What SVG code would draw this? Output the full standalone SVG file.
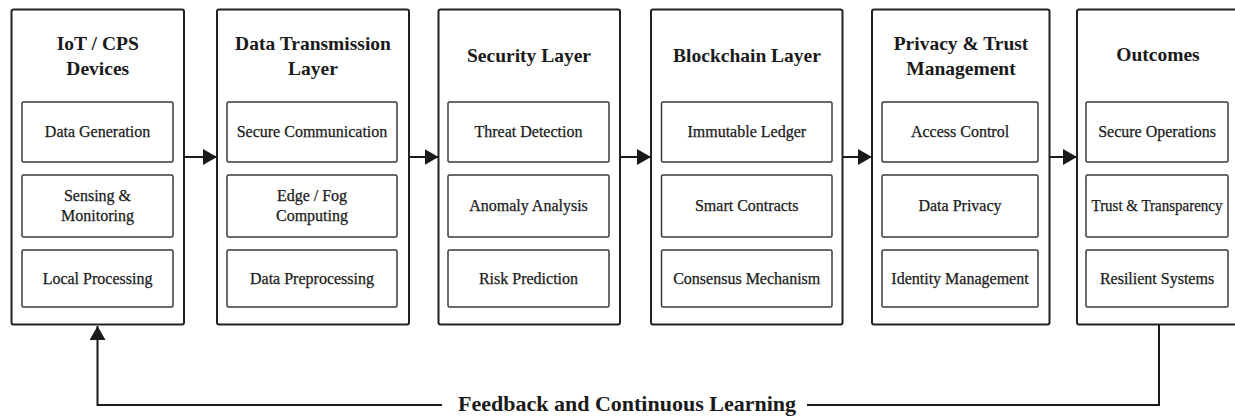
<svg xmlns="http://www.w3.org/2000/svg" width="1235" height="417" viewBox="0 0 1235 417">
  <style>
    .outer { fill: #ffffff; stroke: #222222; stroke-width: 2; }
    .inner { fill: #ffffff; stroke: #3a3a3a; stroke-width: 1.5; }
    .title { font-family: "Liberation Serif", "Times New Roman", serif; font-weight: bold; font-size: 19.5px; fill: #1a1a1a; text-anchor: middle; }
    .item { font-family: "Liberation Serif", "Times New Roman", serif; font-size: 16px; fill: #1a1a1a; text-anchor: middle; stroke: #1a1a1a; stroke-width: 0.25; }
    .label { font-family: "Liberation Serif", "Times New Roman", serif; font-weight: bold; font-size: 22px; fill: #1a1a1a; text-anchor: middle; }
    .conn { fill: none; stroke: #1a1a1a; stroke-width: 2; }
  </style>
  <defs>
    <marker id="arrow" viewBox="0 0 14 16" refX="14" refY="8" markerWidth="14" markerHeight="16" markerUnits="userSpaceOnUse" orient="auto">
      <path d="M0,0 L14,8 L0,16 Z" fill="#1a1a1a"/>
    </marker>
  </defs>
  <rect width="1235" height="417" fill="#ffffff"/>

  <!-- Layer 1 -->
  <g id="iot-cps-devices">
    <rect class="outer" x="11.5" y="9.5" width="172.5" height="315" rx="2"/>
    <text class="title" x="97.75" y="50">IoT / CPS</text>
    <text class="title" x="97.75" y="74.5">Devices</text>
    <rect class="inner" x="22" y="102" width="151" height="60" rx="1.5"/>
    <text class="item" x="97.5" y="137">Data Generation</text>
    <rect class="inner" x="22" y="175" width="151" height="62" rx="1.5"/>
    <text class="item" x="97.5" y="201">Sensing &amp;</text>
    <text class="item" x="97.5" y="221">Monitoring</text>
    <rect class="inner" x="22" y="250" width="151" height="57" rx="1.5"/>
    <text class="item" x="97.5" y="284">Local Processing</text>
  </g>

  <!-- Layer 2 -->
  <g id="data-transmission-layer">
    <rect class="outer" x="217" y="9.5" width="192" height="315" rx="2"/>
    <text class="title" x="313" y="50">Data Transmission</text>
    <text class="title" x="313" y="74.5">Layer</text>
    <rect class="inner" x="227" y="102" width="170" height="60" rx="1.5"/>
    <text class="item" x="312" y="137">Secure Communication</text>
    <rect class="inner" x="227" y="175" width="170" height="62" rx="1.5"/>
    <text class="item" x="312" y="201">Edge / Fog</text>
    <text class="item" x="312" y="221">Computing</text>
    <rect class="inner" x="227" y="250" width="170" height="57" rx="1.5"/>
    <text class="item" x="312" y="284">Data Preprocessing</text>
  </g>

  <!-- Layer 3 -->
  <g id="security-layer">
    <rect class="outer" x="438.5" y="9.5" width="181.5" height="315" rx="2"/>
    <text class="title" x="529" y="62">Security Layer</text>
    <rect class="inner" x="448" y="102" width="161" height="60" rx="1.5"/>
    <text class="item" x="528.5" y="137">Threat Detection</text>
    <rect class="inner" x="448" y="175" width="161" height="62" rx="1.5"/>
    <text class="item" x="528.5" y="211">Anomaly Analysis</text>
    <rect class="inner" x="448" y="250" width="161" height="57" rx="1.5"/>
    <text class="item" x="528.5" y="284">Risk Prediction</text>
  </g>

  <!-- Layer 4 -->
  <g id="blockchain-layer">
    <rect class="outer" x="651" y="9.5" width="191.5" height="315" rx="2"/>
    <text class="title" x="747" y="62">Blockchain Layer</text>
    <rect class="inner" x="661.5" y="102" width="170.5" height="60" rx="1.5"/>
    <text class="item" x="746.75" y="137">Immutable Ledger</text>
    <rect class="inner" x="661.5" y="175" width="170.5" height="62" rx="1.5"/>
    <text class="item" x="746.75" y="211">Smart Contracts</text>
    <rect class="inner" x="661.5" y="250" width="170.5" height="57" rx="1.5"/>
    <text class="item" x="746.75" y="284">Consensus Mechanism</text>
  </g>

  <!-- Layer 5 -->
  <g id="privacy-trust-management">
    <rect class="outer" x="872" y="9.5" width="177.5" height="315" rx="2"/>
    <text class="title" x="961" y="50">Privacy &amp; Trust</text>
    <text class="title" x="961" y="74.5">Management</text>
    <rect class="inner" x="882" y="102" width="156" height="60" rx="1.5"/>
    <text class="item" x="960" y="137">Access Control</text>
    <rect class="inner" x="882" y="175" width="156" height="62" rx="1.5"/>
    <text class="item" x="960" y="211">Data Privacy</text>
    <rect class="inner" x="882" y="250" width="156" height="57" rx="1.5"/>
    <text class="item" x="960" y="284">Identity Management</text>
  </g>

  <!-- Layer 6 -->
  <g id="outcomes">
    <rect class="outer" x="1077" y="9.5" width="162" height="315" rx="2"/>
    <text class="title" x="1158" y="61">Outcomes</text>
    <rect class="inner" x="1086" y="102" width="142" height="60" rx="1.5"/>
    <text class="item" x="1157" y="137">Secure Operations</text>
    <rect class="inner" x="1086" y="175" width="142" height="62" rx="1.5"/>
    <text class="item" x="1157" y="211" textLength="131" lengthAdjust="spacingAndGlyphs">Trust &amp; Transparency</text>
    <rect class="inner" x="1086" y="250" width="142" height="57" rx="1.5"/>
    <text class="item" x="1157" y="284">Resilient Systems</text>
  </g>

  <!-- Connectors -->
  <g id="connectors">
    <line class="conn" x1="184" y1="157" x2="217" y2="157" marker-end="url(#arrow)"/>
    <line class="conn" x1="409" y1="157" x2="438.5" y2="157" marker-end="url(#arrow)"/>
    <line class="conn" x1="620" y1="157" x2="651" y2="157" marker-end="url(#arrow)"/>
    <line class="conn" x1="842.5" y1="157" x2="872" y2="157" marker-end="url(#arrow)"/>
    <line class="conn" x1="1049.5" y1="157" x2="1077" y2="157" marker-end="url(#arrow)"/>
    <!-- feedback loop from outcomes back to devices -->
    <path class="conn" d="M1159,324.5 L1159,405 L807,405"/>
    <path class="conn" d="M442,405 L97.5,405 L97.5,326" marker-end="url(#arrow)"/>
    <text class="label" x="627" y="411">Feedback and Continuous Learning</text>
  </g>
</svg>
